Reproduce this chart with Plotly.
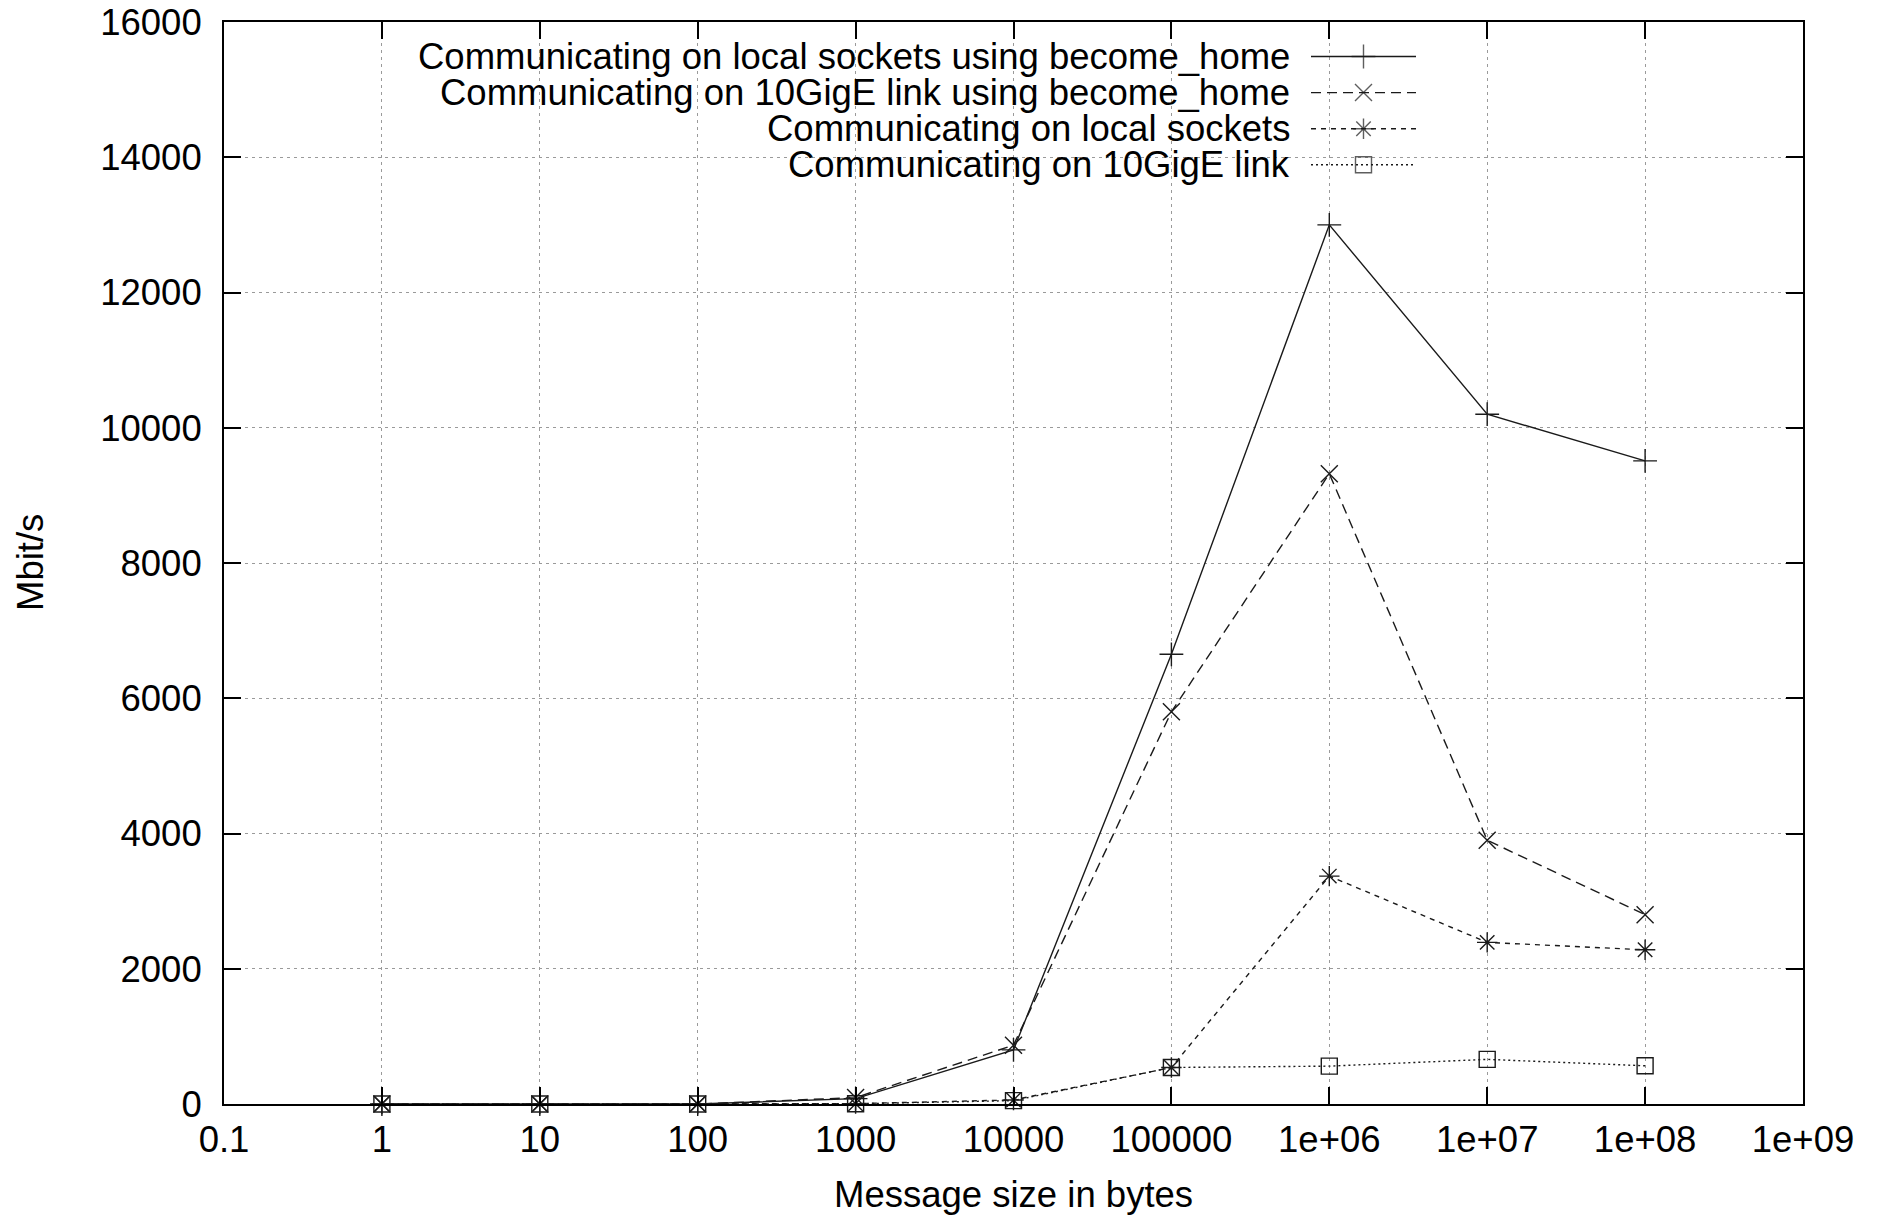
import plotly.graph_objects as go

# ---- data ----
sizes = [1, 10, 100, 1000, 10000, 100000, 1e6, 1e7, 1e8]
local_become_home = [0, 0, 0, 80, 800, 6650, 13000, 10200, 9510]
gige_become_home = [0, 0, 0, 95, 870, 5800, 9320, 3900, 2800]
local_sockets = [0, 0, 0, 5, 60, 540, 3370, 2390, 2280]
gige_link = [0, 0, 0, 3, 50, 540, 560, 660, 565]

series_names = [
    "Communicating on local sockets using become_home",
    "Communicating on 10GigE link using become_home",
    "Communicating on local sockets",
    "Communicating on 10GigE link",
]
x_tickvals = [0.1, 1, 10, 100, 1000, 10000, 100000, 1e6, 1e7, 1e8, 1e9]
x_ticktext = ["0.1", "1", "10", "100", "1000", "10000", "100000",
              "1e+06", "1e+07", "1e+08", "1e+09"]
y_tickvals = [0, 2000, 4000, 6000, 8000, 10000, 12000, 14000, 16000]
y_ticktext = ["0", "2000", "4000", "6000", "8000", "10000", "12000",
              "14000", "16000"]

# ---- styles ----
INK = "#1a1a1a"
FONT = "Liberation Sans, Arial, Helvetica, sans-serif"
FS = 36.5
styles = [
    dict(dash="solid", symbol="cross-thin-open", size=17),
    dict(dash="10px,6px", symbol="x-thin-open", size=17),
    dict(dash="5px,5px", symbol="asterisk-open", size=17),
    dict(dash="2px,3px", symbol="square-open", size=16),
]
values = [local_become_home, gige_become_home, local_sockets, gige_link]

# page body has an 8px default margin -> figure is offset by 8px
OFF = 8
W, H = 1886 - OFF, 1218 - OFF
L, R, T, B = 224 - OFF, 83, 22 - OFF, 114
PW, PH = W - L - R, H - T - B
PLOT_LEFT = OFF + L          # page px
PLOT_BOTTOM = OFF + H - B    # page px


def px_x(px):
    return (px - PLOT_LEFT) / PW


def px_y(py):
    return (PLOT_BOTTOM - py) / PH


fig = go.Figure()
for name, vals, st in zip(series_names, values, styles):
    fig.add_trace(go.Scatter(
        x=sizes, y=vals, name=name, mode="lines+markers",
        line=dict(color=INK, width=1.4, dash=st["dash"]),
        marker=dict(symbol=st["symbol"], size=st["size"], color=INK,
                    line=dict(color=INK, width=1.4)),
        showlegend=False, cliponaxis=False,
    ))

# ---- manual legend (text left, sample right, like gnuplot) ----
row_px = [56.5, 92.6, 128.7, 164.8]
sx0, sx1 = px_x(1311), px_x(1416)
for name, st, ry in zip(series_names, styles, row_px):
    yy = px_y(ry)
    fig.add_trace(go.Scatter(
        x=[sx0, (sx0 + sx1) / 2, sx1], y=[yy, yy, yy],
        xaxis="x2", yaxis="y2", mode="lines+markers",
        line=dict(color=INK, width=1.4, dash=st["dash"]),
        marker=dict(symbol=st["symbol"], size=[0, st["size"], 0], color=INK,
                    line=dict(color=INK, width=1.4)),
        showlegend=False, hoverinfo="skip",
    ))
    fig.add_annotation(
        x=px_x(1292), y=yy, xref="paper", yref="paper",
        text=name, showarrow=False, xanchor="right", yanchor="middle",
        font=dict(family=FONT, size=FS, color="black"),
    )

# opaque key box hiding grid lines
fig.add_shape(type="rect", xref="paper", yref="paper",
              x0=0.002, x1=px_x(1437), y0=px_y(183), y1=0.998,
              fillcolor="white", line=dict(width=0), layer="between")

# axis titles
fig.add_annotation(x=0.5, y=px_y(1194), xref="paper", yref="paper",
                   text="Message size in bytes", showarrow=False,
                   xanchor="center", yanchor="middle",
                   font=dict(family=FONT, size=FS, color="black"))
fig.add_annotation(x=px_x(30), y=0.5, xref="paper", yref="paper",
                   text="Mbit/s", showarrow=False, textangle=-90,
                   xanchor="center", yanchor="middle",
                   font=dict(family=FONT, size=FS, color="black"))

axis_common = dict(
    showline=True, linecolor="black", linewidth=2, mirror="ticks",
    ticks="inside", ticklen=17, tickwidth=2, tickcolor="black",
    showgrid=True, gridcolor="#9a9a9a", gridwidth=1, griddash="3px,4px",
    zeroline=False, automargin=False, ticklabeloverflow="allow",
    tickfont=dict(family=FONT, size=FS, color="black"),
)

fig.update_layout(
    width=W, height=H,
    margin=dict(l=L, r=R, t=T, b=B, pad=0, autoexpand=False),
    paper_bgcolor="white", plot_bgcolor="white",
    showlegend=False,
    xaxis=dict(type="log", range=[-1, 9], tickmode="array",
               tickvals=x_tickvals, ticktext=x_ticktext,
               ticklabelstandoff=2, **axis_common),
    yaxis=dict(range=[0, 16000], tickmode="array", tickvals=y_tickvals,
               ticktext=y_ticktext, ticklabelstandoff=13, **axis_common),
    xaxis2=dict(overlaying="x", range=[0, 1], visible=False,
                showgrid=False, zeroline=False),
    yaxis2=dict(overlaying="y", range=[0, 1], visible=False,
                showgrid=False, zeroline=False),
)

fig.write_html("out.html")
